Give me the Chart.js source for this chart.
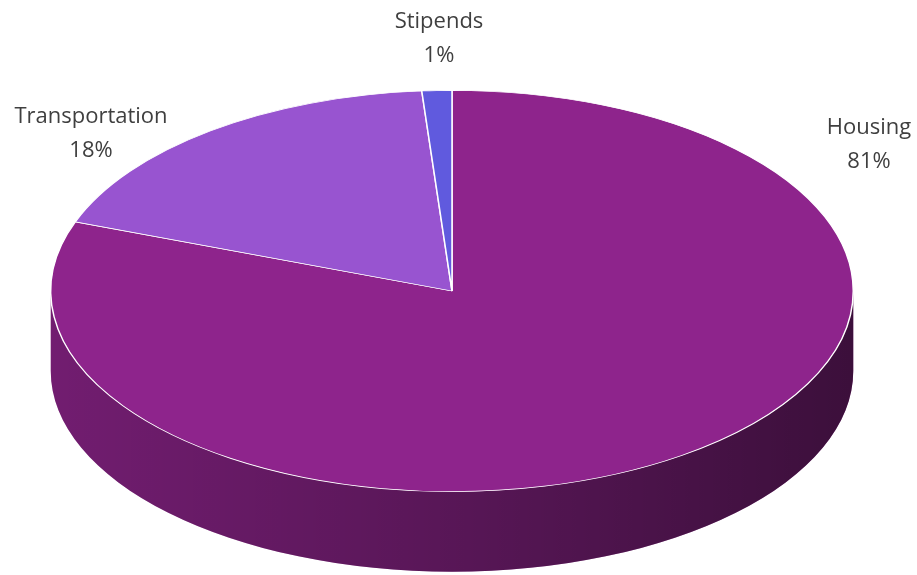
<!DOCTYPE html>
<html>
<head>
<meta charset="utf-8">
<script src="https://cdn.jsdelivr.net/npm/chart.js@4/dist/chart.umd.min.js"></script>
<style>
    html, body { margin: 0; padding: 0; background: #fff; }
    #wrap { width: 917px; height: 575px; }
</style>
</head>
<body>
<div id="wrap"><canvas id="chart"></canvas></div>
<script>
const categories = ['Housing', 'Transportation', 'Stipends'];
const shares = [80.6, 18.2, 1.2];
const colors = ['#8e248c', '#9854d0', '#605ade'];

// where each label's first line sits (centre x, middle y)
const labelSpots = [[869, 128], [91, 117], [439, 22]];
const tilt = 0.5;   // vertical squash of the pie
const depth = 80;   // thickness of the side wall

const pie3d = {
    id: 'pie3d',
    afterLayout(chart) {
        // stretch the area so the circle fits, then squash it when drawing
        const a = chart.chartArea;
        const cy = (a.top + a.bottom) / 2;
        const half = a.height / (2 * tilt);
        a.top = cy - half;
        a.bottom = cy + half;
        a.height = half * 2;
    },
    beforeDatasetsDraw(chart) {
        const ctx = chart.ctx;
        const arcs = chart.getDatasetMeta(0).data;
        const x = arcs[0].x, y = arcs[0].y, r = arcs[0].outerRadius;
        const ry = r * tilt;

        // front wall, one piece per slice that reaches the front half
        arcs.forEach((arc, i) => {
            const s = Math.max(arc.startAngle, 0);
            const e = Math.min(arc.endAngle, Math.PI);
            if (e <= s) return;
            ctx.save();
            ctx.beginPath();
            ctx.ellipse(x, y, r, ry, 0, s, e);
            ctx.ellipse(x, y + depth, r, ry, 0, e, s, true);
            ctx.closePath();
            ctx.fillStyle = colors[i];
            ctx.fill();
            const shade = ctx.createLinearGradient(x - r, 0, x + r, 0);
            shade.addColorStop(0, 'rgba(0,0,0,0.2)');
            shade.addColorStop(0.5, 'rgba(0,0,0,0.38)');
            shade.addColorStop(1, 'rgba(0,0,0,0.58)');
            ctx.fillStyle = shade;
            ctx.fill();
            ctx.restore();
        });

        ctx.save();
        ctx.translate(0, y);
        ctx.scale(1, tilt);
        ctx.translate(0, -y);
    },
    afterDatasetsDraw(chart) {
        chart.ctx.restore();
    },
    afterDraw(chart) {
        const ctx = chart.ctx;
        const total = shares.reduce((a, b) => a + b, 0);
        ctx.save();
        ctx.fillStyle = '#3f3f3f';
        ctx.font = '22px "Open Sans"';
        ctx.textAlign = 'center';
        ctx.textBaseline = 'middle';
        categories.forEach((c, i) => {
            const [lx, ly] = labelSpots[i];
            ctx.fillText(c, lx, ly);
            ctx.fillText(Math.round(shares[i] / total * 100) + '%', lx, ly + 34);
        });
        ctx.restore();
    }
};

new Chart(document.getElementById('chart'), {
    type: 'pie',
    data: {
        labels: categories,
        datasets: [{
            data: shares,
            backgroundColor: colors,
            borderColor: '#ffffff',
            borderWidth: 1.5,
            clip: false
        }]
    },
    options: {
        responsive: true,
        maintainAspectRatio: false,
        animation: false,
        layout: { padding: { left: 49, right: 62, top: 90, bottom: 83 } },
        plugins: {
            legend: { display: false },
            tooltip: { enabled: false }
        }
    },
    plugins: [pie3d]
});
</script>
</body>
</html>
